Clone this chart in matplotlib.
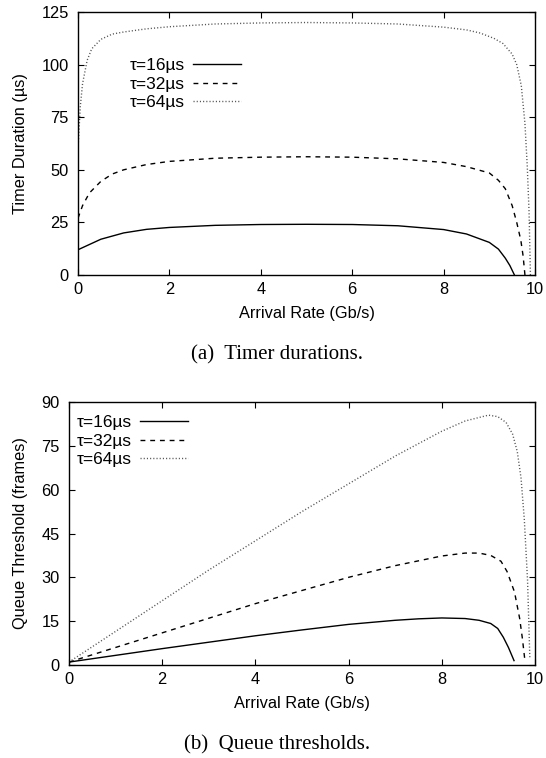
import matplotlib
matplotlib.use("Agg")
import matplotlib.pyplot as plt

plt.rcParams['font.family'] = ['Liberation Sans', 'DejaVu Sans']

# Top: timer durations (us)
x16a = [0, 0.25, 0.5, 1, 1.5, 2, 3, 4, 5, 6, 7, 8, 8.5, 9, 9.2, 9.35, 9.45, 9.55]
y16a = [12, 14.5, 17, 20, 21.7, 22.6, 23.6, 24, 24.1, 24, 23.4, 21.6, 19.5, 15.5, 12.3, 8, 4.5, 0]
x32a = [0, 0.1, 0.25, 0.5, 0.75, 1, 1.5, 2, 3, 4, 5, 6, 7, 8, 8.5, 9, 9.2, 9.35, 9.5, 9.6, 9.69, 9.74, 9.78]
y32a = [27, 33, 39, 44.5, 48, 50, 52.5, 54, 55.5, 56, 56.2, 56, 55.2, 53.5, 51.5, 48.5, 45, 41, 33, 25, 16.5, 9, 0]
x64a = [0, 0.05, 0.1, 0.2, 0.3, 0.5, 0.75, 1, 1.5, 2, 3, 4, 5, 6, 7, 8, 8.5, 8.8, 9.1, 9.3, 9.5, 9.6, 9.7, 9.78, 9.83, 9.87, 9.9]
y64a = [60, 80, 91, 102, 107.5, 112, 114.5, 115.5, 117, 118, 119.3, 119.8, 120, 119.8, 119.3, 117.8, 116.5, 115, 112.5, 110, 105, 100, 90, 72, 52, 30, 0]

# Bottom: queue thresholds (frames)
x16b = [0, 1, 2, 3, 4, 5, 6, 7, 7.5, 8, 8.5, 8.8, 9.05, 9.2, 9.32, 9.43, 9.55]
y16b = [1, 3.3, 5.6, 7.8, 10, 12, 13.9, 15.3, 15.8, 16.1, 15.9, 15.3, 14.2, 12.5, 9.5, 6, 1.5]
x32b = [0, 1, 2, 3, 4, 5, 6, 7, 8, 8.5, 8.8, 9.05, 9.27, 9.4, 9.56, 9.67, 9.73, 9.78]
y32b = [1, 6, 11, 16, 21, 25.5, 30, 34, 37.3, 38.3, 38.3, 37.5, 35.5, 32, 25, 16, 9, 2]
x64b = [0, 1, 2, 3, 4, 5, 6, 7, 8, 8.5, 9, 9.2, 9.38, 9.52, 9.62, 9.7, 9.77, 9.84, 9.89]
y64b = [1, 11.5, 22, 32.5, 42.5, 52.5, 62, 71.5, 80, 83.5, 85.5, 85, 83, 79, 73, 64, 50, 29, 2]

labels = ['τ=16µs', 'τ=32µs', 'τ=64µs']
xticks = [0, 2, 4, 6, 8, 10]
yticks_a = [0, 25, 50, 75, 100, 125]
yticks_b = [0, 15, 30, 45, 60, 75, 90]

W, H = 546, 758
fig = plt.figure(figsize=(W / 100, H / 100), dpi=100)

def ax_rect(l, r, t, b):
    return [l / W, 1 - b / H, (r - l) / W, (b - t) / H]

styles = [dict(color='black', lw=1.0, ls='-'),
          dict(color='black', lw=1.0, ls=(0, (3.5, 3.5))),
          dict(color='#555555', lw=1.0, ls=(0, (0.8, 1.5)))]

FS = 11.8

def setup(ax, yticks, ylabel):
    ax.set_xlim(0, 10)
    ax.set_ylim(yticks[0], yticks[-1])
    ax.set_xticks(xticks)
    ax.set_yticks(yticks)
    ax.tick_params(direction='in', top=True, right=True, length=4, width=0.8,
                   labelsize=FS)
    ax.tick_params(axis='x', pad=5)
    ax.tick_params(axis='y', pad=6.5)
    ax.set_xlabel('Arrival Rate (Gb/s)', fontsize=FS, labelpad=6.5)
    ax.set_ylabel(ylabel, fontsize=FS, labelpad=10)
    for s in ax.spines.values():
        s.set_linewidth(1.0)

leg_kw = dict(frameon=False, markerfirst=False, fontsize=12.5, handlelength=2.75,
              handletextpad=0.45, labelspacing=0.2, borderpad=0, borderaxespad=0,
              bbox_transform=fig.transFigure, loc='upper left')

ax1 = fig.add_axes(ax_rect(78, 535, 12, 275))
for xs, ys, st, lb in zip([x16a, x32a, x64a], [y16a, y32a, y64a], styles, labels):
    ax1.plot(xs, ys, label=lb, **st)
setup(ax1, yticks_a, 'Timer Duration (µs)')
ax1.legend(bbox_to_anchor=(130 / W, 1 - 58 / H), **leg_kw)

ax2 = fig.add_axes(ax_rect(69, 535, 402, 665))
for xs, ys, st, lb in zip([x16b, x32b, x64b], [y16b, y32b, y64b], styles, labels):
    ax2.plot(xs, ys, label=lb, **st)
setup(ax2, yticks_b, 'Queue Threshold (frames)')
ax2.legend(bbox_to_anchor=(77 / W, 1 - 415 / H), **leg_kw)

serif = ['Liberation Serif', 'DejaVu Serif']
fig.text(277 / W, 1 - 355 / H, '(a)  Timer durations.', ha='center', va='center',
         fontsize=15, family=serif)
fig.text(277 / W, 1 - 745 / H, '(b)  Queue thresholds.', ha='center', va='center',
         fontsize=15, family=serif)

fig.savefig('out.png', dpi=100)
